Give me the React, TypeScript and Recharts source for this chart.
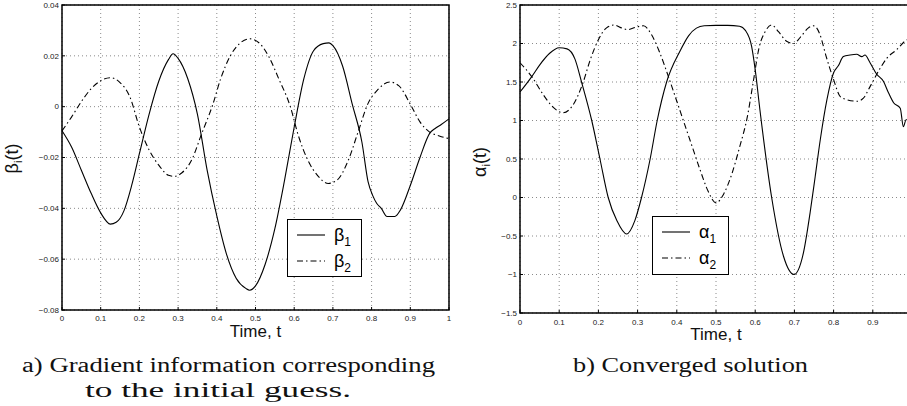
import React from 'react';
import { LineChart, Line, XAxis, YAxis, CartesianGrid, ReferenceArea, Legend } from 'recharts';

// ---------- data ----------
const tTicksLeft = [0, 0.1, 0.2, 0.3, 0.4, 0.5, 0.6, 0.7, 0.8, 0.9, 1];
const tTicksRight = [0, 0.1, 0.2, 0.3, 0.4, 0.5, 0.6, 0.7, 0.8, 0.9];
const betaTicks = [-0.08, -0.06, -0.04, -0.02, 0, 0.02, 0.04];
const alphaTicks = [-1.5, -1, -0.5, 0, 0.5, 1, 1.5, 2, 2.5];

const beta1T = [0, 0.025, 0.05, 0.075, 0.1, 0.125, 0.14, 0.16, 0.18, 0.2, 0.225, 0.25, 0.275, 0.287, 0.3, 0.325, 0.35, 0.375, 0.4, 0.425, 0.45, 0.475, 0.485, 0.5, 0.525, 0.55, 0.575, 0.6, 0.625, 0.65, 0.675, 0.69, 0.7, 0.725, 0.75, 0.775, 0.791, 0.803, 0.813, 0.825, 0.84, 0.86, 0.875, 0.9, 0.925, 0.95, 0.965, 0.98, 1.0];
const beta1V = [-0.0095, -0.016, -0.025, -0.034, -0.0418, -0.0462, -0.0455, -0.041, -0.031, -0.0185, -0.003, 0.010, 0.0185, 0.0208, 0.019, 0.011, -0.003, -0.025, -0.043, -0.058, -0.0675, -0.0715, -0.0722, -0.0705, -0.062, -0.048, -0.029, -0.008, 0.011, 0.022, 0.0248, 0.0251, 0.024, 0.016, 0.001, -0.014, -0.0296, -0.035, -0.038, -0.040, -0.0432, -0.0432, -0.0405, -0.031, -0.020, -0.0105, -0.0085, -0.007, -0.0048];

const beta2T = [0, 0.025, 0.05, 0.075, 0.1, 0.125, 0.15, 0.175, 0.2, 0.225, 0.25, 0.275, 0.29, 0.31, 0.335, 0.36, 0.39, 0.41, 0.435, 0.46, 0.485, 0.51, 0.535, 0.56, 0.59, 0.61, 0.635, 0.66, 0.688, 0.71, 0.74, 0.765, 0.79, 0.815, 0.847, 0.87, 0.9, 0.925, 0.95, 0.975, 1.0];
const beta2V = [-0.0095, -0.004, 0.002, 0.007, 0.0102, 0.0114, 0.0095, 0.004, -0.008, -0.017, -0.023, -0.027, -0.0274, -0.026, -0.021, -0.011, 0.001, 0.011, 0.020, 0.025, 0.0267, 0.025, 0.0195, 0.011, 0.000, -0.011, -0.021, -0.027, -0.0302, -0.029, -0.021, -0.010, 0.001, 0.0065, 0.0097, 0.0083, 0.001, -0.006, -0.010, -0.0115, -0.0126];

const alpha1T = [0, 0.03, 0.05, 0.075, 0.1, 0.12, 0.14, 0.157, 0.183, 0.204, 0.225, 0.247, 0.272, 0.293, 0.31, 0.332, 0.35, 0.374, 0.408, 0.43, 0.45, 0.47, 0.5, 0.53, 0.56, 0.575, 0.591, 0.6, 0.612, 0.642, 0.672, 0.699, 0.723, 0.74, 0.753, 0.766, 0.783, 0.8, 0.812, 0.825, 0.842, 0.859, 0.872, 0.88, 0.893, 0.91, 0.927, 0.94, 0.953, 0.97, 0.978, 0.985, 1.0];
const alpha1V = [1.37, 1.57, 1.72, 1.87, 1.945, 1.93, 1.8, 1.5, 1.0, 0.5, 0.0, -0.3, -0.474, -0.3, 0.0, 0.5, 1.0, 1.5, 1.9, 2.1, 2.2, 2.23, 2.235, 2.235, 2.225, 2.17, 1.96, 1.66, 1.14, 0.0, -0.76, -1.0, -0.72, -0.2, 0.27, 0.75, 1.27, 1.62, 1.71, 1.83, 1.85, 1.86, 1.83, 1.85, 1.75, 1.6, 1.51, 1.36, 1.23, 1.16, 0.92, 1.01, 1.0];

const alpha2T = [0, 0.03, 0.06, 0.085, 0.11, 0.135, 0.16, 0.18, 0.2, 0.22, 0.24, 0.26, 0.275, 0.295, 0.315, 0.335, 0.355, 0.38, 0.4, 0.42, 0.44, 0.46, 0.48, 0.5, 0.52, 0.54, 0.56, 0.58, 0.595, 0.61, 0.625, 0.642, 0.66, 0.68, 0.698, 0.715, 0.735, 0.749, 0.765, 0.78, 0.8, 0.817, 0.834, 0.86, 0.876, 0.893, 0.919, 0.936, 0.961, 0.982, 1.0];
const alpha2V = [1.75, 1.57, 1.33, 1.17, 1.1, 1.2, 1.48, 1.8, 2.05, 2.2, 2.24, 2.2, 2.18, 2.21, 2.23, 2.12, 1.9, 1.55, 1.25, 0.95, 0.65, 0.35, 0.08, -0.07, 0.05, 0.3, 0.65, 1.05, 1.5, 1.95, 2.15, 2.24, 2.15, 2.03, 2.0, 2.08, 2.2, 2.23, 2.12, 1.85, 1.53, 1.31, 1.27, 1.25, 1.29, 1.44, 1.68, 1.81, 1.92, 2.03, 2.08];

const leftNames = ['β', 'β'];
const rightNames = ['α', 'α'];
const seriesSubs = ['1', '2'];

const toRows = (ts: number[], vs: number[]) => ts.map((t, i) => ({ t, v: vs[i] }));

// ---------- styles ----------
const SANS = '"Liberation Sans", Arial, Helvetica, sans-serif';
const SERIF = '"Liberation Serif", "Times New Roman", serif';
const DASHDOT = '6 3 1.5 3';

const fmtNum = (v: number) => (v < 0 ? '\u2212' + String(Math.abs(v)) : String(v));

const makeXTick = (gap: number) => (props: any) => {
  const { x, y, payload } = props;
  return (
    <g>
      <line x1={x} y1={y} x2={x} y2={y - 3} stroke="#000" strokeWidth={1} />
      <text x={x} y={y + gap} textAnchor="middle" fontSize={8} fontFamily={SANS} fill="#222">
        {fmtNum(payload.value)}
      </text>
    </g>
  );
};

const YTick = (props: any) => {
  const { x, y, payload } = props;
  return (
    <g>
      <line x1={x} y1={y} x2={x + 3} y2={y} stroke="#000" strokeWidth={1} />
      <text x={x - 3} y={y} dy="0.35em" textAnchor="end" fontSize={8} fontFamily={SANS} fill="#222">
        {fmtNum(payload.value)}
      </text>
    </g>
  );
};

const makeXLabel = (dy: number) => (props: any) => {
  const vb = props.viewBox;
  return (
    <text x={vb.x + vb.width / 2} y={vb.y + dy} textAnchor="middle" fontSize={17} fontFamily={SANS} fill="#111">
      Time, t
    </text>
  );
};

const makeYLabel = (sym: string, bx: number, shift: number) => (props: any) => {
  const vb = props.viewBox;
  const cx = vb.x + bx;
  const cy = vb.y + vb.height / 2 + shift;
  return (
    <text x={cx} y={cy} transform={`rotate(-90, ${cx}, ${cy})`} textAnchor="middle" fontSize={18} fontFamily={SANS} fill="#111">
      {sym}
      <tspan fontSize={11} dy={4}>i</tspan>
      <tspan dy={-4}>(t)</tspan>
    </text>
  );
};

const makeLegend = (names: string[]) => () => (
  <div style={{ width: '100%', height: '100%', boxSizing: 'border-box', border: '1.5px solid #000', background: '#fff' }}>
    <svg width="100%" height="100%" style={{ display: 'block', overflow: 'visible' }}>
      {names.map((n, i) => {
        const ly = 15 + i * 26;
        return (
          <g key={i}>
            <line x1={9} y1={ly} x2={37} y2={ly} stroke="#000" strokeWidth={1.1} strokeDasharray={i === 1 ? DASHDOT : undefined} />
            <text x={46} y={ly + 6} fontSize={18} fontFamily={SANS} fill="#000">
              {n}
              <tspan fontSize={12} dy={5}>{seriesSubs[i]}</tspan>
            </text>
          </g>
        );
      })}
    </svg>
  </div>
);

type PanelProps = {
  width: number;
  height: number;
  margin: any;
  yWidth: number;
  xTicks: number[];
  yDomain: [number, number];
  yTicks: number[];
  s1: { t: number; v: number }[];
  s2: { t: number; v: number }[];
  names: string[];
  sym: string;
  yLabelX: number;
  yLabelShift: number;
  tickGap: number;
  xLabelDy: number;
  legendPos: { left: number; top: number; width: number; height: number };
};

const Panel = (p: PanelProps) => (
  <LineChart width={p.width} height={p.height} margin={p.margin}>
    <CartesianGrid stroke="#8a8a8a" strokeDasharray="1 3" />
    <XAxis
      type="number"
      dataKey="t"
      domain={[0, 1]}
      ticks={p.xTicks}
      interval={0}
      height={35}
      axisLine={false}
      tickLine={false}
      tickSize={0}
      tickMargin={0}
      tick={makeXTick(p.tickGap)}
      label={{ content: makeXLabel(p.xLabelDy) } as any}
    />
    <YAxis
      type="number"
      domain={p.yDomain}
      ticks={p.yTicks}
      interval={0}
      width={p.yWidth}
      axisLine={false}
      tickLine={false}
      tickSize={0}
      tickMargin={0}
      tick={YTick}
      label={{ content: makeYLabel(p.sym, p.yLabelX, p.yLabelShift) } as any}
    />
    <Line data={p.s1} dataKey="v" type="monotone" stroke="#000" strokeWidth={1.1} dot={false} isAnimationActive={false} />
    <Line data={p.s2} dataKey="v" type="monotone" stroke="#000" strokeWidth={1.1} strokeDasharray={DASHDOT} dot={false} isAnimationActive={false} />
    <ReferenceArea x1={0} x2={1} y1={p.yDomain[0]} y2={p.yDomain[1]} fill="none" stroke="#000" strokeWidth={1.5} ifOverflow="visible" />
    <Legend
      layout="vertical"
      align="center"
      verticalAlign="middle"
      wrapperStyle={{ position: 'absolute', ...p.legendPos }}
      content={makeLegend(p.names)}
    />
  </LineChart>
);

export default function App() {
  return (
    <div style={{ position: 'fixed', left: 0, top: 0, width: 907, height: 406, overflow: 'hidden', background: '#fff' }}>
      <div style={{ position: 'absolute', left: 0, top: 0 }}>
        <Panel
          width={460}
          height={345}
          margin={{ top: 5, right: 11, bottom: 0, left: 0 }}
          yWidth={62}
          xTicks={tTicksLeft}
          yDomain={[-0.08, 0.04]}
          yTicks={betaTicks}
          s1={toRows(beta1T, beta1V)}
          s2={toRows(beta2T, beta2V)}
          names={leftNames}
          sym="β"
          yLabelX={18}
          yLabelShift={1}
          tickGap={10.5}
          xLabelDy={26.5}
          legendPos={{ left: 287, top: 219, width: 75, height: 58 }}
        />
      </div>
      <div style={{ position: 'absolute', left: 450, top: 0 }}>
        <Panel
          width={470}
          height={348}
          margin={{ top: 5, right: 8, bottom: 0, left: 0 }}
          yWidth={70}
          xTicks={tTicksRight}
          yDomain={[-1.5, 2.5]}
          yTicks={alphaTicks}
          s1={toRows(alpha1T, alpha1V)}
          s2={toRows(alpha2T, alpha2V)}
          names={rightNames}
          sym="α"
          yLabelX={36}
          yLabelShift={3}
          tickGap={11.5}
          xLabelDy={27}
          legendPos={{ left: 202, top: 216, width: 77, height: 59 }}
        />
      </div>
      <svg width={907} height={406} style={{ position: 'absolute', left: 0, top: 0, pointerEvents: 'none' }}>
        <text x={22} y={371.5} fontSize={20} fontFamily={SERIF} textLength={413} lengthAdjust="spacingAndGlyphs" fill="#111">
          a) Gradient information corresponding
        </text>
        <text x={85} y={397} fontSize={20} fontFamily={SERIF} textLength={266} lengthAdjust="spacingAndGlyphs" fill="#111">
          to the initial guess.
        </text>
        <text x={573} y={372} fontSize={20} fontFamily={SERIF} textLength={235} lengthAdjust="spacingAndGlyphs" fill="#111">
          b) Converged solution
        </text>
      </svg>
    </div>
  );
}
